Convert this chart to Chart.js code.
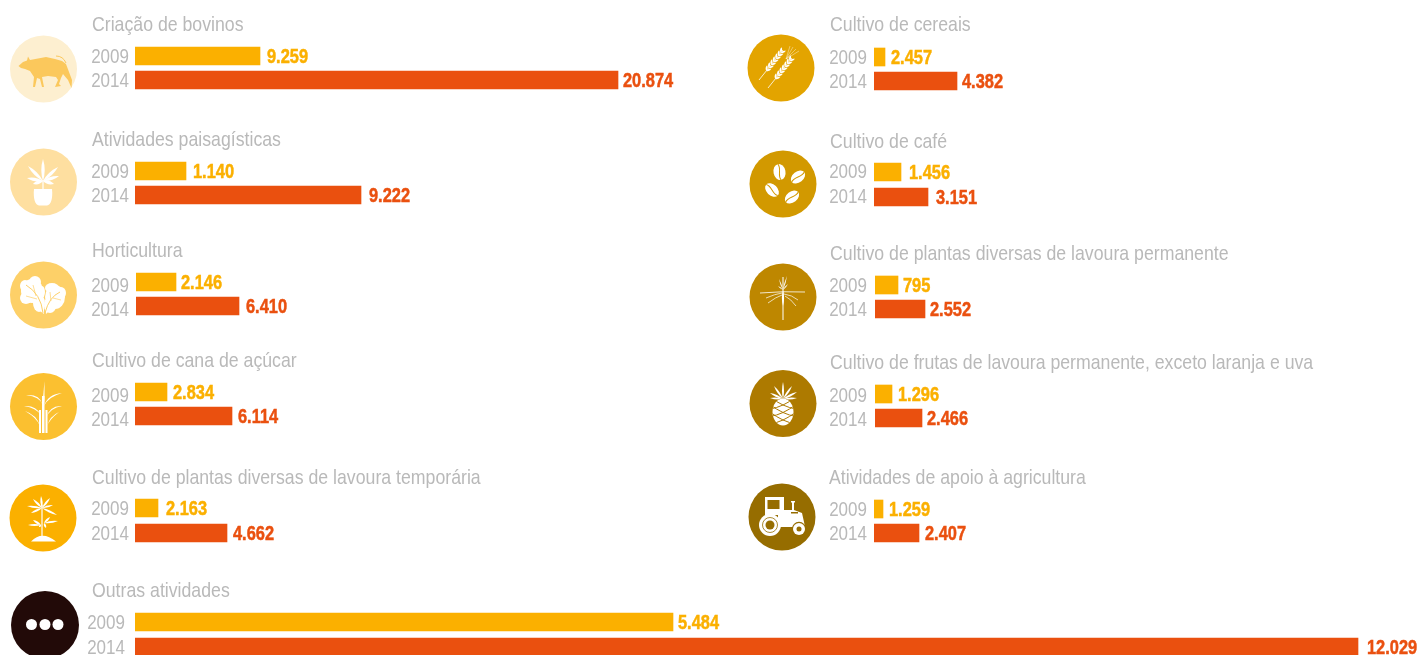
<!DOCTYPE html>
<html lang="pt">
<head>
<meta charset="utf-8">
<title>Atividades agropecuárias</title>
<script src="https://cdn.jsdelivr.net/npm/chart.js@4"></script>
<style>
html,body{margin:0;padding:0;background:#fff;width:1419px;height:655px;overflow:hidden}
canvas{position:absolute;display:block;pointer-events:none}
</style>
</head>
<body>
<script>
// ---- data ----
const years = ['2009', '2014'];
const categories = [
  'Criação de bovinos', 'Atividades paisagísticas', 'Horticultura', 'Cultivo de cana de açúcar',
  'Cultivo de plantas diversas de lavoura temporária', 'Outras atividades',
  'Cultivo de cereais', 'Cultivo de café', 'Cultivo de plantas diversas de lavoura permanente',
  'Cultivo de frutas de lavoura permanente, exceto laranja e uva', 'Atividades de apoio à agricultura'
];
// Numbers printed beside the bars
const values2009 = [9259, 1140, 2146, 2834, 2163, 5484, 2457, 1456, 795, 1296, 1259];
const values2014 = [20874, 9222, 6410, 6114, 4662, 12029, 4382, 3151, 2552, 2466, 2407];
// Bar lengths: the reference's bars are not drawn in
// proportion to their printed numbers, so the drawn lengths are kept separately.
const barLength2009 = [125, 51, 40, 32, 23, 538, 11, 27, 23, 17, 9];
const barLength2014 = [483, 226, 103, 97, 92, 1223, 83, 54, 50, 47, 45];

// ---- layout and style (one entry per category) ----
const colLeft   = [0, 0, 0, 0, 0, 0, 740, 740, 740, 740, 740];
const barStart  = [135, 135, 136, 135, 135, 135, 874, 874, 875, 875, 874];
const rowCenter = [56, 171, 282, 392, 508, 622, 57, 172, 285, 394, 509];
const rowStep   = [24, 24, 24, 24, 25, 25, 24, 25, 24, 24, 24];
const titleX    = [92, 92, 92, 92, 92, 92, 830, 830, 830, 830, 829];
const titleY    = [25, 140, 251, 361, 478, 591, 25, 142, 254, 363, 478];
const yearRight = [129, 129, 129, 129, 129, 125, 867, 867, 867, 867, 867];
const yearShift = [0, 0, 3.5, 3, 0, 0, 0, -1, 0, 1, 0];
const gap2009   = [7, 7, 5, 6, 8, 5, 6, 8, 5, 6, 6];
const gap2014   = [5, 8, 7, 6, 6, 9, 5, 8, 5, 5, 6];
const circleX   = [43.5, 43.5, 43.5, 43.5, 43, 45, 781, 783, 783, 783, 782];
const circleY   = [69, 182, 295, 406.5, 518, 625, 68, 184, 297, 403.5, 517];
const circleR   = [33.5, 33.5, 33.5, 33.5, 33.5, 34, 33.5, 33.5, 33.5, 33.5, 33.5];
const circleCol = ['#FDEFD0', '#FEDFA0', '#FDD068', '#FBC030', '#FBB000', '#220A08',
                   '#E3A400', '#D29900', '#BE8700', '#AD7A00', '#966D00'];
const YELLOW = '#FBB000', RED = '#EA500F', GREY = '#B9B9B9';
const FONT = '"Liberation Sans", sans-serif';

// Text condensed horizontally: no condensed face is installed
function narrowText(c, text, x, y, squeeze, align, heavy) {
  c.save();
  c.translate(x, y);
  c.scale(squeeze, 1);
  c.textAlign = align;
  c.textBaseline = 'middle';
  if (heavy) { c.strokeStyle = c.fillStyle; c.lineWidth = heavy; c.strokeText(text, 0, 0); }
  c.fillText(text, 0, 0);
  c.restore();
}

// ---- icon helpers (abs = picture coordinates, shifted by the canvas origin) ----
function leaf(c, x0, y0, x1, y1, w) {
  const mx = (x0 + x1) / 2, my = (y0 + y1) / 2, dx = x1 - x0, dy = y1 - y0;
  const l = Math.hypot(dx, dy) || 1, nx = -dy / l * w, ny = dx / l * w;
  c.beginPath(); c.moveTo(x0, y0);
  c.quadraticCurveTo(mx + nx, my + ny, x1, y1);
  c.quadraticCurveTo(mx - nx, my - ny, x0, y0);
  c.fill();
}
function poly(c, p) {
  c.beginPath(); c.moveTo(p[0], p[1]);
  for (let i = 2; i < p.length; i += 2) c.lineTo(p[i], p[i + 1]);
  c.closePath(); c.fill();
}
function line(c, w, x0, y0, x1, y1, cx, cy) {
  c.lineWidth = w; c.beginPath(); c.moveTo(x0, y0);
  if (cx !== undefined) c.quadraticCurveTo(cx, cy, x1, y1); else c.lineTo(x1, y1);
  c.stroke();
}
function disc(c, x, y, r) { c.beginPath(); c.arc(x, y, r, 0, 7); c.fill(); }
function bean(c, x, y, rx, ry, rot, bg) {
  c.save(); c.translate(x, y); c.rotate(rot);
  c.beginPath(); c.ellipse(0, 0, rx, ry, 0, 0, 7); c.fill();
  c.strokeStyle = bg; c.lineWidth = 1; c.beginPath(); c.moveTo(0, -ry);
  c.bezierCurveTo(3, -ry / 3, -3, ry / 3, 0, ry); c.stroke();
  c.restore();
}
function ear(c, x0, y0, x1, y1) {
  line(c, 0.8, x0, y0, x1, y1);
  const dx = x1 - x0, dy = y1 - y0, l = Math.hypot(dx, dy), ux = dx / l, uy = dy / l;
  for (let k = 0.3; k < 0.95; k += 0.1) {
    const bx = x0 + dx * k, by = y0 + dy * k;
    leaf(c, bx, by, bx + ux * 5 - uy * 2.8, by + uy * 5 + ux * 2.8, 2.1);
    leaf(c, bx, by, bx + ux * 5 + uy * 2.8, by + uy * 5 - ux * 2.8, 2.1);
  }
}
const icons = [
  function cow(c) {
    c.fillStyle = c.strokeStyle = '#FBC85C';
    poly(c, [18.5,66, 23,62, 27,60.5, 28,56.5, 30,60, 38,58.5, 46,57, 55,59, 62,61, 66,64, 69,72, 72,80, 71.5,88, 68,80, 63,74, 61,78, 59,84, 61,86, 55,87, 58,80, 56,77, 48,76, 42,77, 44,87, 42,87, 40,79, 37,78, 35,87, 33,87, 34,77, 30,71, 25,69, 21,68]);
    line(c, 1, 56, 56, 66, 63, 63, 56);
  },
  function plant(c) {
    c.fillStyle = c.strokeStyle = '#fff';
    [[43,159],[28,166],[58,167],[27,178],[59,176],[33,184],[54,184]].forEach(t => leaf(c, 43, 181, t[0], t[1], 3.4));
    line(c, 1.2, 43, 180, 43, 190);
    c.beginPath(); c.moveTo(34, 189); c.lineTo(52, 189); c.bezierCurveTo(53, 198, 51, 205, 47, 205.5);
    c.lineTo(39, 205.5); c.bezierCurveTo(35, 205, 33, 198, 34, 189); c.fill();
  },
  function lettuce(c) {
    c.fillStyle = '#fff'; c.strokeStyle = '#FDD068';
    [[32,291,10,11],[25,286,4,5],[35,282,5,5],[26,298,5,5],[39,303,5,8],[42,292,2,5]].forEach(b => { c.beginPath(); c.ellipse(b[0], b[1], b[2] + 1, b[3] + 1, 0, 0, 7); c.fill(); });
    [[55,297,9,11],[52,288,6,4],[61,293,4,5],[50,306,5,6]].forEach(b => { c.beginPath(); c.ellipse(b[0], b[1], b[2] + 1, b[3] + 1, 0, 0, 7); c.fill(); });
    poly(c, [36,308, 44,314, 44,300, 36,300]); poly(c, [46,314, 52,308, 48,298, 45,300]);
    line(c, 1, 43, 313, 26, 285, 41, 294); line(c, 0.7, 36, 296, 33, 285); line(c, 0.7, 37, 299, 26, 296);
    line(c, 1, 45, 313, 60, 292, 49, 297); line(c, 0.7, 51, 301, 50, 292); line(c, 0.7, 53, 298, 61, 300);
  },
  function cane(c) {
    c.fillStyle = '#fff'; c.strokeStyle = '#fff';
    c.fillRect(39, 410, 2, 23); c.fillRect(42, 396, 2.5, 37); c.fillRect(45.5, 410, 2, 23);
    leaf(c, 43, 416, 44.5, 381, 1.5);
    const cv = (x0, y0, cx, cy, x1, y1) => { c.beginPath(); c.moveTo(x0, y0); c.quadraticCurveTo(cx, cy, x1, y1); c.quadraticCurveTo(cx, cy + 3, x0, y0); c.fill(); };
    cv(42, 404, 40, 394, 26, 395); cv(44, 406, 48, 394, 62, 393);
    cv(41, 415, 36, 405, 24, 406); cv(46, 418, 50, 405, 62, 406);
    cv(40, 426, 37, 415, 25, 411); cv(47, 426, 50, 416, 59, 412);
  },
  function shrub(c) {
    c.fillStyle = c.strokeStyle = '#fff';
    line(c, 1.2, 42, 540, 42, 505);
    c.beginPath(); c.moveTo(31, 541.5); c.quadraticCurveTo(42, 530, 56, 541.5); c.closePath(); c.fill();
    [[41,496],[33,499],[50,498],[27,506],[57,515],[31,513],[53,505]].forEach(t => leaf(c, 42, 508, t[0], t[1], 2.2));
    [[28,525],[39,527],[33,520]].forEach(t => leaf(c, 41, 525, t[0], t[1], 2.1));
    [[58,521],[46,528],[50,517]].forEach(t => leaf(c, 44, 523, t[0], t[1], 2.1));
  },
  function dots(c) {
    c.fillStyle = '#fff'; [31.5, 45, 58].forEach(x => disc(c, x, 624.5, 5.5));
  },
  function wheat(c) {
    c.fillStyle = c.strokeStyle = '#fff';
    ear(c, 759, 80, 783, 50);
    ear(c, 768, 88, 792, 58);
    [[790,46],[793,47],[796,49],[799,51]].forEach(t => line(c, 0.4, 786, 59, t[0], t[1]));
  },
  function coffee(c) {
    c.fillStyle = '#fff'; const bg = '#D29900';
    bean(c, 779.5, 172, 6, 8, -0.2, bg); bean(c, 798, 177, 5.5, 8, 0.9, bg);
    bean(c, 772, 190, 5.5, 8, -0.8, bg); bean(c, 792, 197, 5.5, 8, 0.9, bg);
  },
  function root(c) {
    c.fillStyle = c.strokeStyle = '#fff';
    line(c, 1, 783, 277, 783, 320); leaf(c, 783, 290, 783, 306, 2.2);
    line(c, 0.8, 760, 293, 805, 292, 783, 291);
    line(c, 0.7, 766, 298, 782, 293, 775, 294); line(c, 0.7, 768, 303, 782, 295, 776, 297);
    line(c, 0.7, 798, 300, 784, 294, 792, 295); line(c, 0.7, 796, 306, 785, 296, 791, 299);
    [[779,279],[787,276],[778,286],[788,284]].forEach(t => leaf(c, 783, 290, t[0], t[1], 1.1));
  },
  function pineapple(c) {
    c.fillStyle = c.strokeStyle = '#fff';
    [[783,382],[774,386],[792,386],[770,393],[797,392],[770,398],[797,398]].forEach(t => leaf(c, 783, 399, t[0], t[1], 2));
    c.beginPath(); c.ellipse(783, 412, 10.5, 13.5, 0, 0, 7); c.fill();
    c.save(); c.beginPath(); c.ellipse(783, 412, 10.5, 13.5, 0, 0, 7); c.clip();
    c.strokeStyle = '#AD7A00';
    for (let k = -24; k <= 24; k += 7.5) {
      line(c, 1, 770, 412 + k - 6, 796, 412 + k + 6, 783, 412 + k + 4);
      line(c, 1, 770, 412 + k + 6, 796, 412 + k - 6, 783, 412 + k + 4);
    }
    c.restore();
  },
  function tractor(c) {
    const bg = '#966D00'; c.fillStyle = c.strokeStyle = '#fff';
    poly(c, [765,497, 784,497, 784,510, 794,510, 802,513, 804,522, 805,527, 778,527, 778,515, 765,515]);
    c.fillRect(792, 501, 2, 10); c.fillRect(791, 501, 4, 1.5);
    c.fillStyle = bg; c.fillRect(767.5, 500, 12, 9); c.fillRect(791, 512, 7, 1.5);
    c.fillStyle = '#fff'; disc(c, 770, 525, 11);
    c.strokeStyle = bg; c.lineWidth = 0.8; c.beginPath(); c.arc(770, 525, 7.5, 0, 7); c.stroke();
    c.fillStyle = bg; disc(c, 770, 525, 4.5);
    disc(c, 799, 529, 7.2); c.fillStyle = '#fff'; disc(c, 799, 529, 6); c.fillStyle = bg; disc(c, 799, 529, 2.5);
  }
];

// ---- per-panel plugin: circle icon, title, year labels, value labels ----
const panelPlugin = {
  id: 'panel',
  afterDraw(chart, args, o) {
    const i = o.index, c = chart.ctx, ox = colLeft[i], oy = o.originY;
    c.save();
    c.translate(-ox, -oy);
    c.fillStyle = circleCol[i];
    c.beginPath(); c.arc(circleX[i], circleY[i], circleR[i], 0, 7); c.fill();
    c.lineCap = 'butt';
    icons[i](c);
    c.fillStyle = GREY;
    c.font = '21px ' + FONT;
    narrowText(c, categories[i], titleX[i], titleY[i], 0.843, 'left');
    c.restore();

    const yScale = chart.scales.y;
    c.save();
    c.fillStyle = GREY;
    c.font = '21px ' + FONT;
    years.forEach((y, k) => {
      narrowText(c, y, yearRight[i] - ox, yScale.getPixelForValue(k) + yearShift[i] + 1, 0.81, 'right');
    });
    const meta = chart.getDatasetMeta(0);
    const fmt = v => String(v).replace(/\B(?=(\d{3})+$)/g, '.');
    c.font = 'bold 20px ' + FONT;
    meta.data.forEach((bar, k) => {
      c.fillStyle = k ? RED : YELLOW;
      narrowText(c, fmt(k ? values2014[i] : values2009[i]), bar.x + (k ? gap2014[i] : gap2009[i]), bar.y + 1, 0.82, 'left', 0.5);
    });
    c.restore();
  }
};

categories.forEach((name, i) => {
  const canvas = document.createElement('canvas');
  const originY = titleY[i] - 18;
  const width = i === 5 ? 1419 : 735;
  const padTop = rowCenter[i] - rowStep[i] / 2 - originY;
  const bottom = Math.max(rowCenter[i] + rowStep[i] * 1.5, circleY[i] + circleR[i] + 2);
  const height = Math.ceil(bottom - originY);
  canvas.width = width; canvas.height = height;
  canvas.style.left = colLeft[i] + 'px'; canvas.style.top = originY + 'px';
  canvas.style.width = width + 'px'; canvas.style.height = height + 'px';
  document.body.appendChild(canvas);
  const axisW = barStart[i] - colLeft[i];
  new Chart(canvas, {
    type: 'bar',
    plugins: [panelPlugin],
    data: {
      labels: years,
      datasets: [{
        label: name,
        data: [barLength2009[i], barLength2014[i]],
        backgroundColor: [YELLOW, RED],
        barThickness: 18,
        borderWidth: 0
      }]
    },
    options: {
      indexAxis: 'y',
      responsive: false,
      animation: false,
      devicePixelRatio: 1,
      layout: { padding: { top: padTop, bottom: height - padTop - 2 * rowStep[i], left: 0, right: 0 } },
      plugins: {
        legend: { display: false },
        tooltip: { enabled: false },
        title: { display: false },
        panel: { index: i, originY: originY }
      },
      scales: {
        x: { display: false, min: 0, max: width - axisW },
        y: {
          grid: { display: false, drawTicks: false },
          border: { display: false },
          afterFit(s) { s.width = axisW; s.paddingTop = 0; s.paddingBottom = 0; },
          ticks: { display: false, autoSkip: false }
        }
      }
    }
  });
});
</script>
</body>
</html>
